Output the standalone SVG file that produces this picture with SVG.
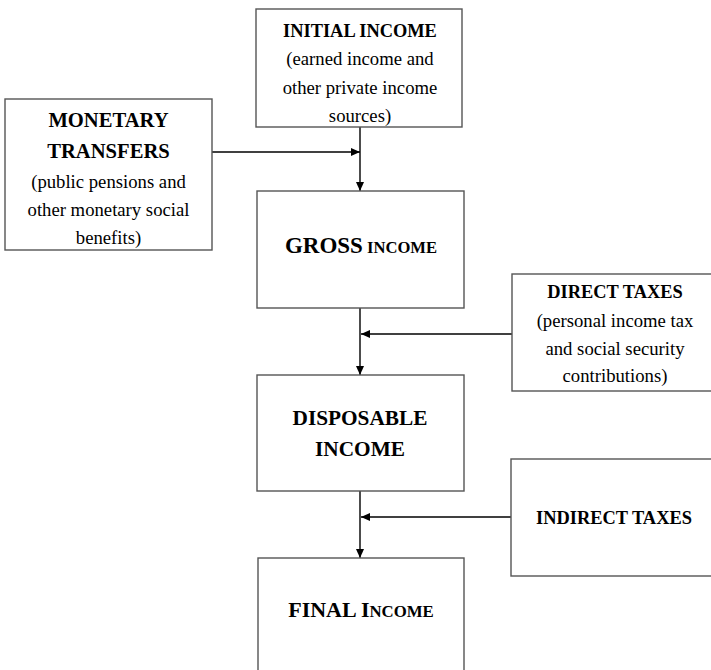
<svg xmlns="http://www.w3.org/2000/svg" width="711" height="670" viewBox="0 0 711 670">
<defs>
<style>
.box{fill:#fff;stroke:#555;stroke-width:1.4}
text{font-family:"Liberation Serif","DejaVu Serif",serif;fill:#000;text-anchor:middle}
.b{font-weight:bold}
.n{font-size:18.7px}
.h{font-size:18.4px}
.c{stroke:#000;stroke-width:1.4;fill:none;marker-end:url(#ah)}
</style>
<marker id="ah" markerUnits="userSpaceOnUse" markerWidth="10" markerHeight="8" refX="9" refY="4" orient="auto">
<path d="M0,0 L9,4 L0,8 Z" fill="#000"/>
</marker>
</defs>
<rect width="711" height="670" fill="#fff"/>
<g id="connectors">
<line class="c" x1="360" y1="127" x2="360" y2="191"/>
<line class="c" x1="212" y1="152" x2="360" y2="152"/>
<line class="c" x1="360" y1="308" x2="360" y2="375"/>
<line class="c" x1="512" y1="334" x2="361" y2="334"/>
<line class="c" x1="360" y1="491" x2="360" y2="558"/>
<line class="c" x1="511" y1="517" x2="361" y2="517"/>
</g>
<g id="initial-income" font-family="Liberation Serif, serif">
<rect class="box" x="256" y="9" width="206" height="118"/>
<text class="b h" x="360" y="37">INITIAL INCOME</text>
<text class="n" x="360" y="65">(earned income and</text>
<text class="n" x="360" y="94">other private income</text>
<text class="n" x="360" y="122">sources)</text>
</g>
<g id="monetary-transfers">
<rect class="box" x="5" y="99" width="207" height="151"/>
<text class="b" font-size="20.6" x="108.5" y="127">MONETARY</text>
<text class="b" font-size="20.6" x="108.5" y="158">TRANSFERS</text>
<text class="n" x="108.5" y="188">(public pensions and</text>
<text class="n" x="108.5" y="216">other monetary social</text>
<text class="n" x="108.5" y="244">benefits)</text>
</g>
<g id="gross-income">
<rect class="box" x="257" y="191" width="207" height="117"/>
<text class="b" x="361" y="253"><tspan font-size="23">GROSS</tspan><tspan font-size="16.6"> INCOME</tspan></text>
</g>
<g id="direct-taxes">
<rect class="box" x="512" y="274" width="215" height="117"/>
<text class="b h" x="615" y="298">DIRECT TAXES</text>
<text class="n" x="615" y="327">(personal income tax</text>
<text class="n" x="615" y="355">and social security</text>
<text class="n" x="615" y="382">contributions)</text>
</g>
<g id="disposable-income">
<rect class="box" x="257" y="375" width="207" height="116"/>
<text class="b" font-size="21.3" x="360" y="425">DISPOSABLE</text>
<text class="b" font-size="21.3" x="360" y="456">INCOME</text>
</g>
<g id="indirect-taxes">
<rect class="box" x="511" y="459" width="215" height="117"/>
<text class="b h" x="614" y="524">INDIRECT TAXES</text>
</g>
<g id="final-income">
<rect class="box" x="258" y="558" width="206" height="130"/>
<text class="b" x="361" y="617"><tspan font-size="22">FINAL I</tspan><tspan font-size="16.8">NCOME</tspan></text>
</g>
</svg>
